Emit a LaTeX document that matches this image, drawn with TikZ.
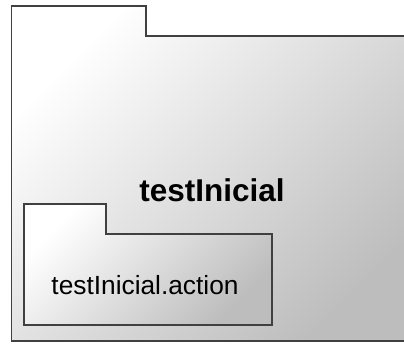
\documentclass[tikz,border=0pt]{standalone}
\usepackage{fontspec}
\setmainfont{Liberation Sans}
\usetikzlibrary{positioning}

\begin{document}
\begin{tikzpicture}[x=1pt,y=-1pt,
  package/.style={draw=black!75,line width=1.4pt,line join=miter,
    shading=axis,top color=white,bottom color=black!26,shading angle=45}]
\clip (0,0) rectangle (404,343);
\fill[white] (0,0) rectangle (404,343);

% Outer package (runs past the right edge)
\draw[package] (11.5,6) -- (146,6) -- (146,36) -- (420,36) -- (420,341)
  -- (11.5,341) -- cycle;
\node[font=\fontsize{31.5}{36}\selectfont\bfseries] (outerlabel) at (212,190) {testInicial};

% Inner package
\draw[package] (24,204) -- (106,204) -- (106,234) -- (272,234) -- (272,325)
  -- (24,325) -- cycle;
\node[font=\fontsize{26.3}{31}\selectfont] (innerlabel) at (145,285) {testInicial.action};
\end{tikzpicture}
\end{document}
